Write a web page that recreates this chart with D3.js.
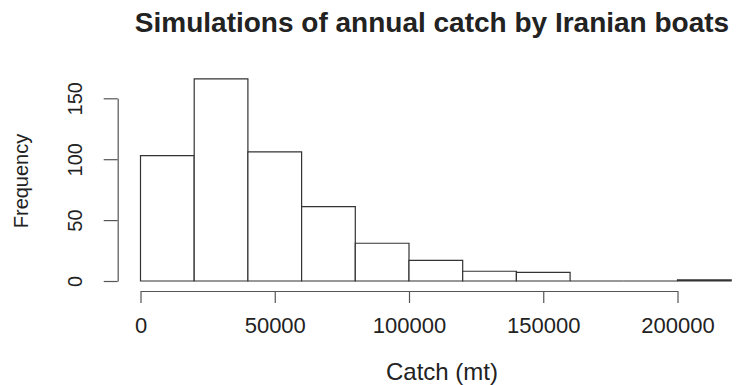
<!DOCTYPE html>
<html>
<head>
<meta charset="utf-8">
<script src="https://cdn.jsdelivr.net/npm/d3@7"></script>
<style>
  html, body { margin: 0; padding: 0; background: #fff; }
  svg { display: block; }
  text { font-family: "Liberation Sans", Arial, Helvetica, sans-serif; fill: #222; }
</style>
</head>
<body>
<svg id="chart" width="736" height="385"></svg>
<script>
// Histogram of simulated annual catch, 20 000 mt bins
const binStarts = [0, 20000, 40000, 60000, 80000, 100000, 120000, 140000, 160000, 180000, 200000];
const binWidth = 20000;
const counts = [103, 166, 106, 61, 31, 17, 8, 7, 0, 0, 1];
const xTicks = [0, 50000, 100000, 150000, 200000];
const yTicks = [0, 50, 100, 150];
const titleText = "Simulations of annual catch by Iranian boats";
const xLabel = "Catch (mt)";
const yLabel = "Frequency";

const svg = d3.select("#chart");

const x = d3.scaleLinear().domain([0, 200000]).range([140.5, 677.5]);
const y = d3.scaleLinear().domain([0, 150]).range([281, 98.3]);

// bars drawn as closed outlines so empty bins still show as a line on the baseline
svg.append("g")
  .selectAll("path")
  .data(binStarts.map((s, i) => ({ s, n: counts[i] })))
  .join("path")
  .attr("d", d => {
    const x0 = x(d.s), x1 = x(d.s + binWidth), y0 = y(0), y1 = y(d.n);
    return `M${x0},${y0}L${x0},${y1}L${x1},${y1}L${x1},${y0}Z`;
  })
  .attr("fill", "#fff")
  .attr("stroke", "#333")
  .attr("stroke-width", 1.2);

// x axis
const xAxis = svg.append("g")
  .attr("transform", "translate(0,291)")
  .call(d3.axisBottom(x).tickValues(xTicks).tickFormat(d3.format("d")).tickSize(12).tickPadding(14).tickSizeOuter(0));
xAxis.select(".domain").attr("stroke", "#555").attr("stroke-width", 1.2);
xAxis.selectAll(".tick line").attr("stroke", "#555").attr("stroke-width", 1.2);
xAxis.selectAll(".tick text")
  .attr("font-size", 22)
  .attr("font-family", "Liberation Sans, Arial, sans-serif")
  .attr("fill", "#222");

// y axis
const yAxis = svg.append("g")
  .attr("transform", "translate(117.7,0)")
  .call(d3.axisLeft(y).tickValues(yTicks).tickSize(14).tickPadding(0).tickSizeOuter(0));
yAxis.select(".domain").attr("stroke", "#555").attr("stroke-width", 1.2);
yAxis.selectAll(".tick line").attr("stroke", "#555").attr("stroke-width", 1.2);
yAxis.selectAll(".tick text")
  .attr("font-size", 20)
  .attr("font-family", "Liberation Sans, Arial, sans-serif")
  .attr("fill", "#222")
  .attr("text-anchor", "middle")
  .attr("dy", 0)
  .attr("x", 0)
  .attr("y", 0)
  .attr("transform", "translate(-35.5,0) rotate(-90)");

// title and axis labels
svg.append("text")
  .attr("x", 432).attr("y", 32)
  .attr("text-anchor", "middle")
  .attr("font-size", 28)
  .attr("font-weight", "bold")
  .attr("fill", "#111")
  .text(titleText);

svg.append("text")
  .attr("x", 442).attr("y", 380)
  .attr("text-anchor", "middle")
  .attr("font-size", 24)
  .text(xLabel);

svg.append("text")
  .attr("transform", "translate(28,181) rotate(-90)")
  .attr("text-anchor", "middle")
  .attr("font-size", 20)
  .text(yLabel);
</script>
</body>
</html>
